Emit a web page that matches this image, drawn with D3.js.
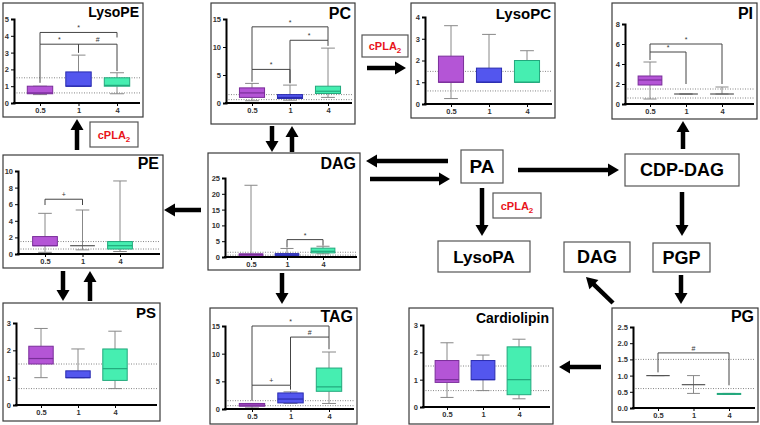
<!DOCTYPE html>
<html>
<head>
<meta charset="utf-8">
<script src="https://cdn.jsdelivr.net/npm/d3@7"></script>
<style>
  body { margin: 0; background: #fff; }
  svg { font-family: "Liberation Sans", Arial, sans-serif; }
</style>
</head>
<body>
<div id="chart"></div>
<script>
// Groups shown on every x axis
const groups = ["0.5", "1", "4"];
// reference (dotted) lines
const refLines = [0.6, 1.5];

// box stats per group: [min, q1, median, q3, max]
const lysoPEStats = [[0.5, 0.55, 0.6, 1.0, 1.0], [1.0, 1.0, 1.0, 1.85, 2.85], [0.55, 1.0, 1.05, 1.5, 1.8]];
const pcStats = [[0.4, 1.0, 1.8, 2.7, 3.5], [0.5, 0.8, 1.0, 1.5, 3.2], [1.0, 1.7, 2.1, 3.0, 9.8]];
const lysoPCStats = [[0.25, 1.0, 1.0, 2.2, 3.6], [1.0, 1.0, 1.0, 1.65, 3.2], [1.0, 1.0, 1.0, 2.0, 2.45]];
const piStats = [[0.5, 1.9, 2.4, 2.8, 4.2], [1.0, 1.0, 1.0, 1.0, 1.0], [1.0, 1.0, 1.0, 1.0, 1.7]];
const peStats = [[0.2, 1.0, 1.0, 2.1, 4.9], [0.5, 1.0, 1.0, 1.0, 5.3], [0.3, 0.6, 1.0, 1.5, 8.8]];
const dagStats = [[0.0, 0.3, 0.8, 1.0, 22.7], [0.2, 0.5, 1.0, 1.0, 2.7], [1.0, 1.3, 1.8, 2.8, 3.4]];
const psStats = [[1.0, 1.5, 1.7, 2.15, 2.8], [1.0, 1.0, 1.0, 1.25, 2.05], [0.6, 0.9, 1.33, 2.05, 2.7]];
const tagStats = [[0.2, 0.5, 0.7, 1.0, 1.0], [1.0, 1.1, 1.8, 2.9, 3.1], [1.0, 3.2, 4.0, 7.4, 10.3]];
const cardioStats = [[0.35, 0.9, 1.0, 1.7, 2.35], [0.6, 1.0, 1.0, 1.7, 1.9], [0.3, 0.45, 1.0, 2.2, 2.48]];
const pgStats = [[1.0, 1.0, 1.0, 1.0, 1.0], [0.45, 0.72, 0.72, 0.72, 1.0], [0.42, 0.42, 0.44, 0.45, 0.45]];

// significance brackets: [from, to, height, leg end at from, leg end at to, label]
const lysoPEBrackets = [["0.5", "4", 4.2, 3.5, 3.9, "*"], ["0.5", "1", 3.5, 1.2, 3.0, "*"], ["1", "4", 3.5, 3.0, 1.9, "#"]];
const pcBrackets = [["0.5", "4", 13.6, 6.0, 11.2, "*"], ["1", "4", 11.2, 3.6, 10.2, "*"], ["0.5", "1", 6.0, 3.8, 3.5, "*"]];
const piBrackets = [["0.5", "4", 6.0, 5.2, 2.0, "*"], ["0.5", "1", 5.2, 4.4, 2.0, "*"]];
const peBrackets = [["0.5", "1", 6.6, 5.9, 5.9, "+"]];
const dagBrackets = [["1", "4", 5.5, 3.0, 3.6, "*"]];
const tagBrackets = [["0.5", "4", 15.0, 4.3, 13.0, "*"], ["1", "4", 13.0, 4.3, 10.8, "#"], ["0.5", "1", 4.3, 1.5, 3.5, "+"]];
const pgBrackets = [["0.5", "4", 1.7, 1.1, 0.7, "#"]];

const fills = ["#b455d6", "#5356ee", "#46eeb1"];
const strokes = ["#7a2e9a", "#2a2cb0", "#22a87c"];

const svg = d3.select("#chart").append("svg")
    .attr("width", 760)
    .attr("height", 425);

// layout of each panel on the page
const panels = [
    {name: "LysoPE", stats: lysoPEStats, br: lysoPEBrackets, yMax: 5, step: 1, box: [3, 3, 140, 114], ax: 14, yPix: [103, 19], xPix: [40, 117], ty: 17, fs: 14},
    {name: "PC", stats: pcStats, br: pcBrackets, yMax: 15, step: 5, box: [211, 3, 144, 121], ax: 226, yPix: [103, 19], xPix: [252, 328], ty: 19, fs: 16},
    {name: "LysoPC", stats: lysoPCStats, br: [], yMax: 4, step: 1, box: [411, 3, 144, 115], ax: 425, yPix: [104, 17], xPix: [451, 527], ty: 19, fs: 15},
    {name: "PI", stats: piStats, br: piBrackets, yMax: 8, step: 2, box: [612, 3, 145, 116], ax: 625, yPix: [104, 24], xPix: [650, 722], ty: 19, fs: 16},
    {name: "PE", stats: peStats, br: peBrackets, yMax: 10, step: 2, box: [3, 155, 160, 113], ax: 18, yPix: [254, 171], xPix: [45, 120], ty: 169, fs: 16},
    {name: "DAG", stats: dagStats, br: dagBrackets, yMax: 25, step: 5, box: [208, 153, 152, 117], ax: 225, yPix: [257, 178], xPix: [251, 323], ty: 169, fs: 16},
    {name: "PS", stats: psStats, br: [], yMax: 3, step: 1, box: [3, 303, 157, 118], ax: 16, yPix: [405, 323], xPix: [41, 115], ty: 318, fs: 15},
    {name: "TAG", stats: tagStats, br: tagBrackets, yMax: 15, step: 5, box: [210, 308, 147, 116], ax: 225, yPix: [409, 326], xPix: [252, 329], ty: 322, fs: 16},
    {name: "Cardiolipin", stats: cardioStats, br: [], yMax: 3, step: 1, box: [409, 308, 144, 116], ax: 423, yPix: [407, 325], xPix: [447, 519], ty: 323, fs: 14},
    {name: "PG", stats: pgStats, br: pgBrackets, yMax: 2.5, step: 0.5, box: [612, 308, 146, 114], ax: 633, yPix: [408, 327], xPix: [658, 729], ty: 322, fs: 16, fmt: ".1f"}
];

function drawPanel(p) {
    const g = svg.append("g");
    const [bx, by, bw, bh] = p.box;
    const right = bx + bw - 3;

    g.append("rect")
        .attr("x", bx).attr("y", by)
        .attr("width", bw).attr("height", bh)
        .attr("fill", "#fff")
        .attr("stroke", "#3a3a3a")
        .attr("stroke-width", 1.2);

    const y = d3.scaleLinear().domain([0, p.yMax]).range(p.yPix);
    const x = d3.scalePoint().domain(groups).range(p.xPix);
    const half = (p.xPix[1] - p.xPix[0]) / 2 * 0.33;

    // dotted reference lines
    refLines.forEach(v => {
        g.append("line")
            .attr("x1", p.ax).attr("x2", right)
            .attr("y1", y(v)).attr("y2", y(v))
            .attr("stroke", "#666")
            .attr("stroke-width", 0.8)
            .attr("stroke-dasharray", "1,1.5");
    });

    // box plots
    p.stats.forEach((s, i) => {
        const cx = x(groups[i]);
        const [mn, q1, md, q3, mx] = s;
        // whiskers
        g.append("line").attr("x1", cx).attr("x2", cx).attr("y1", y(mx)).attr("y2", y(q3))
            .attr("stroke", "#888").attr("stroke-width", 1);
        g.append("line").attr("x1", cx).attr("x2", cx).attr("y1", y(q1)).attr("y2", y(mn))
            .attr("stroke", "#888").attr("stroke-width", 1);
        [mn, mx].forEach(v => {
            g.append("line").attr("x1", cx - half * 0.55).attr("x2", cx + half * 0.55)
                .attr("y1", y(v)).attr("y2", y(v))
                .attr("stroke", "#888").attr("stroke-width", 1);
        });
        if (q3 > q1) {
            g.append("rect")
                .attr("x", cx - half).attr("y", y(q3))
                .attr("width", half * 2).attr("height", Math.max(1, y(q1) - y(q3)))
                .attr("fill", fills[i])
                .attr("stroke", strokes[i])
                .attr("stroke-width", 1);
        }
        g.append("line").attr("x1", cx - half).attr("x2", cx + half)
            .attr("y1", y(md)).attr("y2", y(md))
            .attr("stroke", q3 > q1 ? strokes[i] : "#555").attr("stroke-width", 1.2);
    });

    // significance brackets
    p.br.forEach(b => {
        const [a, c, h, ya, yc, lab] = b;
        g.append("path")
            .attr("d", `M${x(a)},${y(ya)}V${y(h)}H${x(c)}V${y(yc)}`)
            .attr("fill", "none")
            .attr("stroke", "#444")
            .attr("stroke-width", 1);
        g.append("text")
            .attr("x", (x(a) + x(c)) / 2)
            .attr("y", y(h) - 2)
            .attr("text-anchor", "middle")
            .attr("font-size", 7)
            .attr("fill", "#333")
            .text(lab);
    });

    // axes
    const ticks = d3.range(0, p.yMax + p.step / 2, p.step);
    const yAxis = d3.axisLeft(y).tickValues(ticks).tickSize(3).tickPadding(2)
        .tickFormat(p.fmt ? d3.format(p.fmt) : d3.format("d"));
    const ya = g.append("g").attr("transform", `translate(${p.ax},0)`).call(yAxis);
    ya.select(".domain").attr("stroke", "#000").attr("stroke-width", 2);
    ya.selectAll(".tick line").attr("stroke", "#000");
    ya.selectAll(".tick text").attr("font-size", 7.5).attr("font-weight", "bold").attr("fill", "#333")
        .attr("font-family", "'Liberation Sans', Arial, sans-serif");

    const xAxis = d3.axisBottom(x).tickSize(3).tickPadding(2);
    const xa = g.append("g").attr("transform", `translate(0,${y(0)})`).call(xAxis);
    xa.select(".domain").remove();
    xa.append("line").attr("x1", p.ax - 1).attr("x2", right).attr("y1", 0).attr("y2", 0)
        .attr("stroke", "#000").attr("stroke-width", 2);
    xa.selectAll(".tick line").attr("stroke", "#000");
    xa.selectAll(".tick text").attr("font-size", 7.5).attr("font-weight", "bold").attr("fill", "#333")
        .attr("font-family", "'Liberation Sans', Arial, sans-serif");

    g.append("text")
        .attr("x", bx + bw - 4)
        .attr("y", p.ty)
        .attr("text-anchor", "end")
        .attr("font-size", p.fs)
        .attr("font-weight", "bold")
        .attr("fill", "#000")
        .text(p.name);
}

panels.forEach(drawPanel);

// pathway boxes
const nodes = [
    {label: "PA", x: 461, y: 150, w: 42, h: 33, fs: 19},
    {label: "CDP-DAG", x: 625, y: 154, w: 114, h: 32, fs: 18},
    {label: "LysoPA", x: 438, y: 241, w: 92, h: 31, fs: 17},
    {label: "DAG", x: 564, y: 242, w: 66, h: 30, fs: 18},
    {label: "PGP", x: 653, y: 243, w: 57, h: 29, fs: 18}
];
nodes.forEach(n => {
    svg.append("rect").attr("x", n.x).attr("y", n.y).attr("width", n.w).attr("height", n.h)
        .attr("fill", "#fff").attr("stroke", "#555").attr("stroke-width", 1.2);
    svg.append("text").attr("x", n.x + n.w / 2).attr("y", n.y + n.h / 2 + n.fs * 0.36)
        .attr("text-anchor", "middle").attr("font-size", n.fs).attr("font-weight", "bold")
        .text(n.label);
});

// enzyme labels
const enzymes = [[90, 122, 48, 25], [362, 35, 46, 22], [493, 193, 48, 25]];
enzymes.forEach(e => {
    svg.append("rect").attr("x", e[0]).attr("y", e[1]).attr("width", e[2]).attr("height", e[3])
        .attr("fill", "#fff").attr("stroke", "#555").attr("stroke-width", 1.2);
    const t = svg.append("text").attr("x", e[0] + e[2] / 2).attr("y", e[1] + e[3] / 2 + 4)
        .attr("text-anchor", "middle").attr("font-size", 11).attr("font-weight", "bold")
        .attr("fill", "#e8141b");
    t.append("tspan").text("cPLA");
    t.append("tspan").attr("font-size", 8).attr("dy", 3).text("2");
});

// arrows [x1, y1, x2, y2]
const arrows = [
    [367, 68, 406, 68],
    [77, 150, 77, 119],
    [63, 271, 63, 301],
    [90, 301, 90, 271],
    [272, 126, 272, 152],
    [292, 152, 292, 126],
    [201, 210, 164, 210],
    [282, 273, 282, 304],
    [448, 161, 366, 161],
    [370, 179, 450, 179],
    [518, 170, 619, 170],
    [482, 188, 482, 236],
    [682, 192, 682, 236],
    [683, 149, 683, 121],
    [681, 275, 681, 304],
    [613, 303, 586, 277],
    [601, 367, 559, 367]
];
arrows.forEach(a => {
    const [x1, y1, x2, y2] = a;
    const len = Math.hypot(x2 - x1, y2 - y1);
    const ux = (x2 - x1) / len, uy = (y2 - y1) / len;
    const hl = 11, hw = 6.5;
    const bx = x2 - ux * hl, by = y2 - uy * hl;
    svg.append("line").attr("x1", x1).attr("y1", y1).attr("x2", bx + ux).attr("y2", by + uy)
        .attr("stroke", "#000").attr("stroke-width", 4.5);
    svg.append("polygon")
        .attr("points", `${x2},${y2} ${bx - uy * hw},${by + ux * hw} ${bx + uy * hw},${by - ux * hw}`)
        .attr("fill", "#000");
});
</script>
</body>
</html>
